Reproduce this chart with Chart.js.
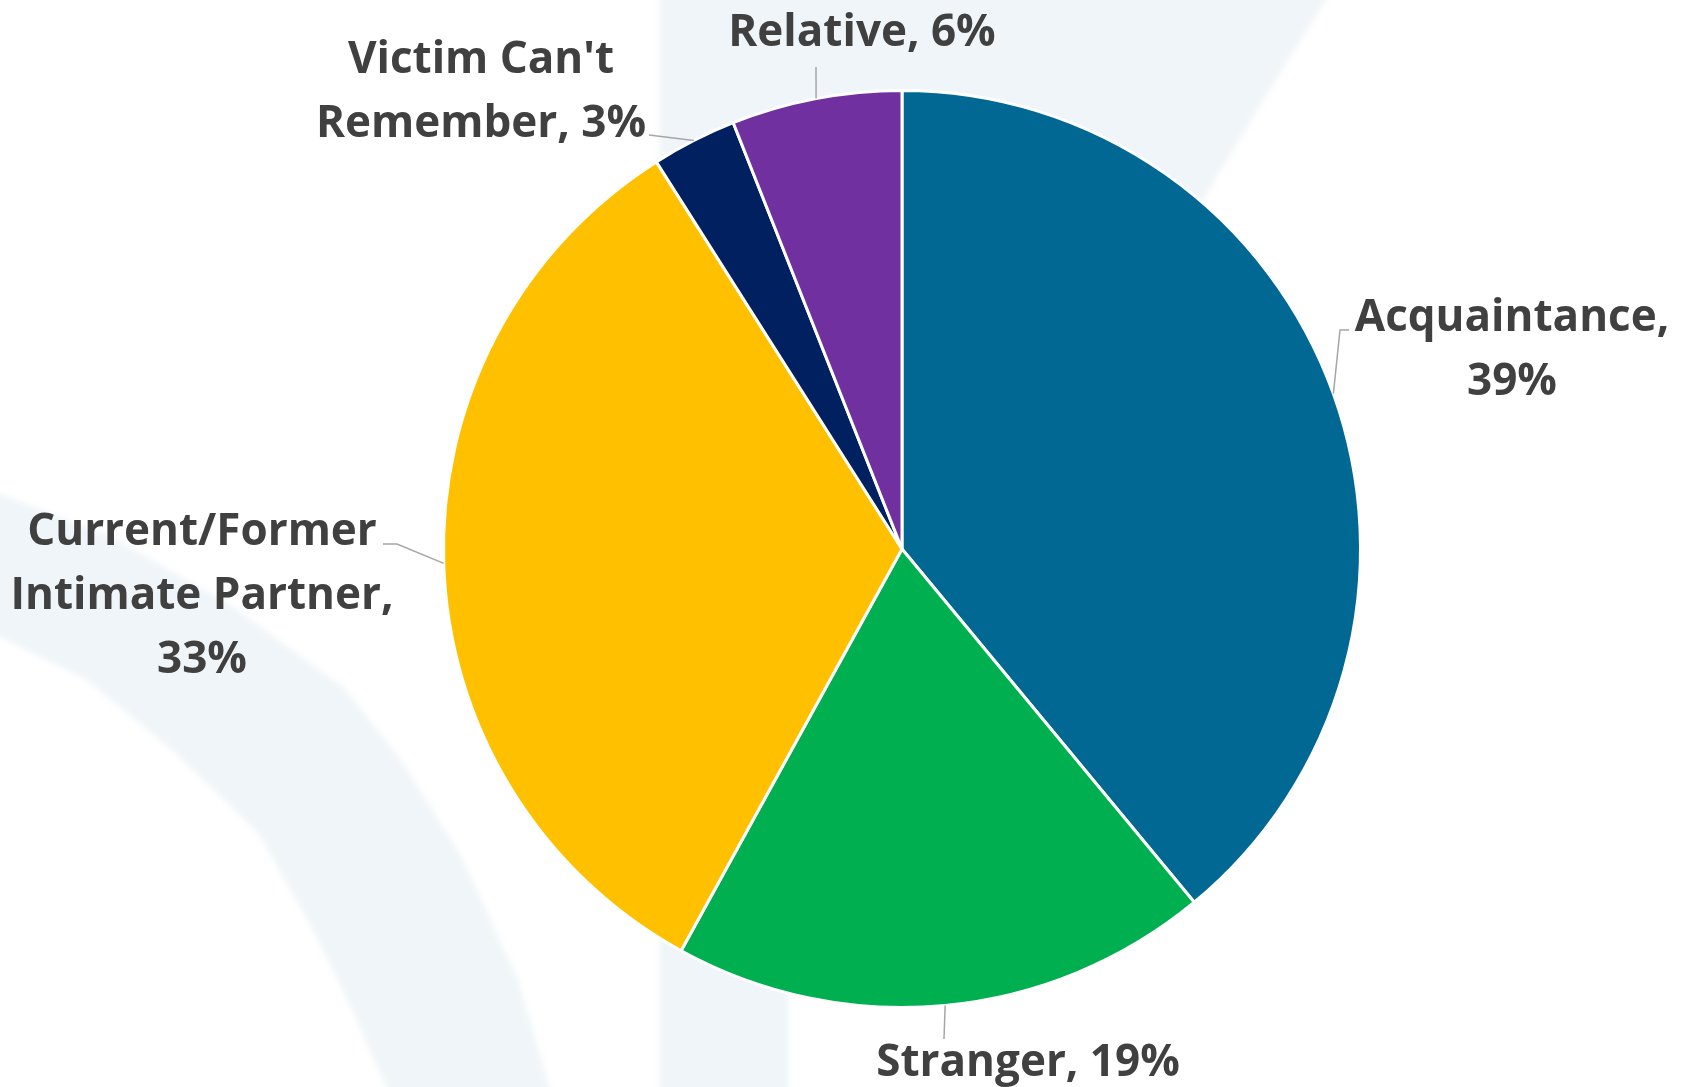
<!DOCTYPE html>
<html>
<head>
<meta charset="utf-8">
<script src="https://cdn.jsdelivr.net/npm/chart.js@4.4.1/dist/chart.umd.min.js"></script>
<style>
  html, body { margin: 0; padding: 0; background: #ffffff; }
  canvas { display: block; }
</style>
</head>
<body>
<canvas id="pieChart" width="1683" height="1087"></canvas>
<script>
// Data
const categories = ["Acquaintance", "Stranger", "Current/Former Intimate Partner", "Victim Can't Remember", "Relative"];
const shares = [39, 19, 33, 3, 6];
const sliceColors = ["#006892", "#00AF50", "#FFC000", "#002060", "#7030A0"];

// Label layout, offsets from the pie centre (px)
// words: how many words go on each line of the label
const labelLayout = [
    { dx: 610, dy: -218, words: [1, 1], leader: [[438, -219], [447, -219]] },
    { dx: 126, dy: 527, words: [2], leader: [[42, 490]] },
    { dx: -700, dy: -4, words: [1, 2, 1], leader: [[-505, -5], [-519, -5]] },
    { dx: -421, dy: -476, words: [2, 2], leader: [[-253, -414]] },
    { dx: -40, dy: -503, words: [2], leader: [[-86, -482]] }
];

const labelFont = "bold 44px 'Open Sans', 'DejaVu Sans', sans-serif";
const lineHeight = 64;

// Faint watermark shapes behind the chart
const backgroundPlugin = {
    id: "backdrop",
    beforeDraw(chart) {
        const c = chart.ctx;
        c.save();
        c.fillStyle = "#ffffff";
        c.fillRect(0, 0, chart.width, chart.height);
        c.filter = "blur(3px)";
        c.fillStyle = "#EFF5F8";

        c.beginPath();
        c.moveTo(660, -10);
        c.lineTo(1332, -10);
        c.quadraticCurveTo(1262, 100, 1200, 205);
        c.lineTo(1000, 700);
        c.lineTo(788, 950);
        c.lineTo(788, 1100);
        c.lineTo(660, 1100);
        c.closePath();
        c.fill();

        c.beginPath();
        c.moveTo(-10, 490);
        c.lineTo(115, 539);
        c.lineTo(230, 605);
        c.lineTo(344, 688);
        c.lineTo(402, 762);
        c.lineTo(459, 853);
        c.lineTo(517, 977);
        c.lineTo(553, 1100);
        c.lineTo(392, 1100);
        c.lineTo(356, 1018);
        c.lineTo(316, 935);
        c.lineTo(258, 832);
        c.lineTo(172, 750);
        c.lineTo(86, 679);
        c.lineTo(-10, 632);
        c.closePath();
        c.fill();
        c.restore();
    }
};

// Data labels with leader lines
const labelPlugin = {
    id: "pieLabels",
    afterDraw(chart) {
        const c = chart.ctx;
        const meta = chart.getDatasetMeta(0);
        const values = chart.data.datasets[0].data;
        meta.data.forEach((arc, i) => {
            const p = arc.getProps(["x", "y", "startAngle", "endAngle", "outerRadius"], true);
            const lay = labelLayout[i];
            const mid = (p.startAngle + p.endAngle) / 2;
            const ax = p.x + Math.cos(mid) * p.outerRadius;
            const ay = p.y + Math.sin(mid) * p.outerRadius;

            c.save();
            c.strokeStyle = "#A6A6A6";
            c.lineWidth = 1.5;
            c.beginPath();
            c.moveTo(ax, ay);
            lay.leader.forEach(pt => c.lineTo(p.x + pt[0], p.y + pt[1]));
            c.stroke();

            const text = `${chart.data.labels[i]}, ${values[i]}%`;
            const words = text.split(" ");
            const lines = [];
            let k = 0;
            lay.words.forEach(n => {
                lines.push(words.slice(k, k + n).join(" "));
                k += n;
            });
            c.font = labelFont;
            c.fillStyle = "#404040";
            c.textAlign = "center";
            c.textBaseline = "alphabetic";
            lines.forEach((line, j) => {
                c.fillText(line, p.x + lay.dx, p.y + lay.dy + j * lineHeight);
            });
            c.restore();
        });
    }
};

const ctx = document.getElementById("pieChart").getContext("2d");
const chart = new Chart(ctx, {
    type: "pie",
    data: {
        labels: categories,
        datasets: [{
            data: shares,
            backgroundColor: sliceColors,
            borderColor: "#ffffff",
            borderWidth: 3
        }]
    },
    options: {
        responsive: false,
        animation: false,
        layout: {
            padding: { top: 89, bottom: 78, left: 442, right: 321 }
        },
        plugins: {
            legend: { display: false },
            tooltip: { enabled: false }
        }
    },
    plugins: [backgroundPlugin, labelPlugin]
});
</script>
</body>
</html>
